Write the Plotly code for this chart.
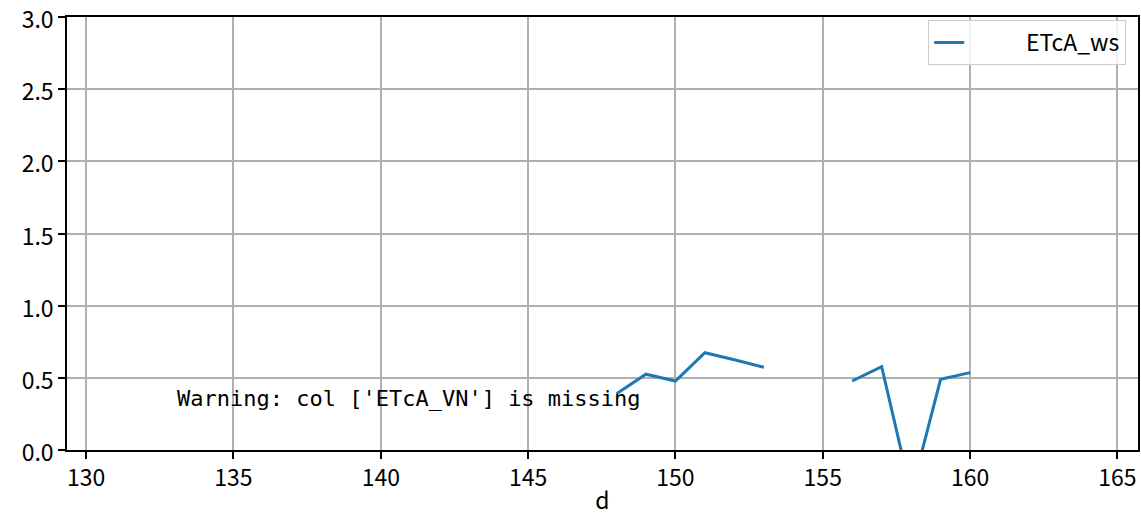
import plotly.graph_objects as go

days = [148, 149, 150, 151, 152, 153, 154, 155, 156, 157, 158, 159, 160]
etca_ws = [0.39, 0.525, 0.478, 0.674, 0.625, 0.573, None, None, 0.478, 0.577, -0.30, 0.49, 0.536]

x_ticks = [130, 135, 140, 145, 150, 155, 160, 165]
y_ticks = [0.0, 0.5, 1.0, 1.5, 2.0, 2.5, 3.0]

warning_text = "Warning: col ['ETcA_VN'] is missing"

font_main = "Noto Sans CJK SC"

fig = go.Figure()
fig.add_trace(
    go.Scatter(
        x=days, y=etca_ws,
        mode="lines", name="\u00a0" * 11 + "ETcA_ws",
        line={"color": "#1f77b4", "width": 3},
        connectgaps=False,
    ),
)

fig.add_annotation(
    x=133, y=0.36, xref="x", yref="y",
    text=warning_text, showarrow=False,
    xanchor="left", yanchor="middle",
    font={"family": "DejaVu Sans Mono", "size": 22, "color": "black"},
)

axis_common = dict(
    showline=True, linecolor="black", linewidth=1.6, mirror=True,
    showgrid=True, gridcolor="#b0b0b0", gridwidth=1.6,
    ticks="outside", ticklen=7, tickwidth=1.6, tickcolor="black",
    zeroline=False, automargin=False, ticklabeloverflow="allow",
    tickfont={"family": font_main, "size": 23, "color": "black"},
)

fig.update_xaxes(
    range=[129.35, 165.7], tickvals=x_ticks,
    title={"text": "d", "font": {"family": font_main, "size": 23, "color": "black"}, "standoff": 0},
    **axis_common,
)
fig.update_yaxes(
    range=[0, 3], tickvals=y_ticks, tickformat=".1f", ticklabelshift=3,
    **axis_common,
)

fig.update_layout(
    width=1141, height=520,
    plot_bgcolor="white", paper_bgcolor="white",
    margin={"l": 67, "r": 3, "t": 17, "b": 70},
    showlegend=True,
    legend={
        "x": 0.989, "y": 0.993, "xanchor": "right", "yanchor": "top",
        "bgcolor": "rgba(255,255,255,0.8)", "bordercolor": "#cccccc", "borderwidth": 1,
        "font": {"family": font_main, "size": 23, "color": "black"},
    },
)

# drop the default 8px body margin so the figure sits at the page origin
fig.write_html(
    "out.html",
    config={"displayModeBar": False},
    post_script="document.body.style.margin='0';document.body.style.overflow='hidden';",
)
